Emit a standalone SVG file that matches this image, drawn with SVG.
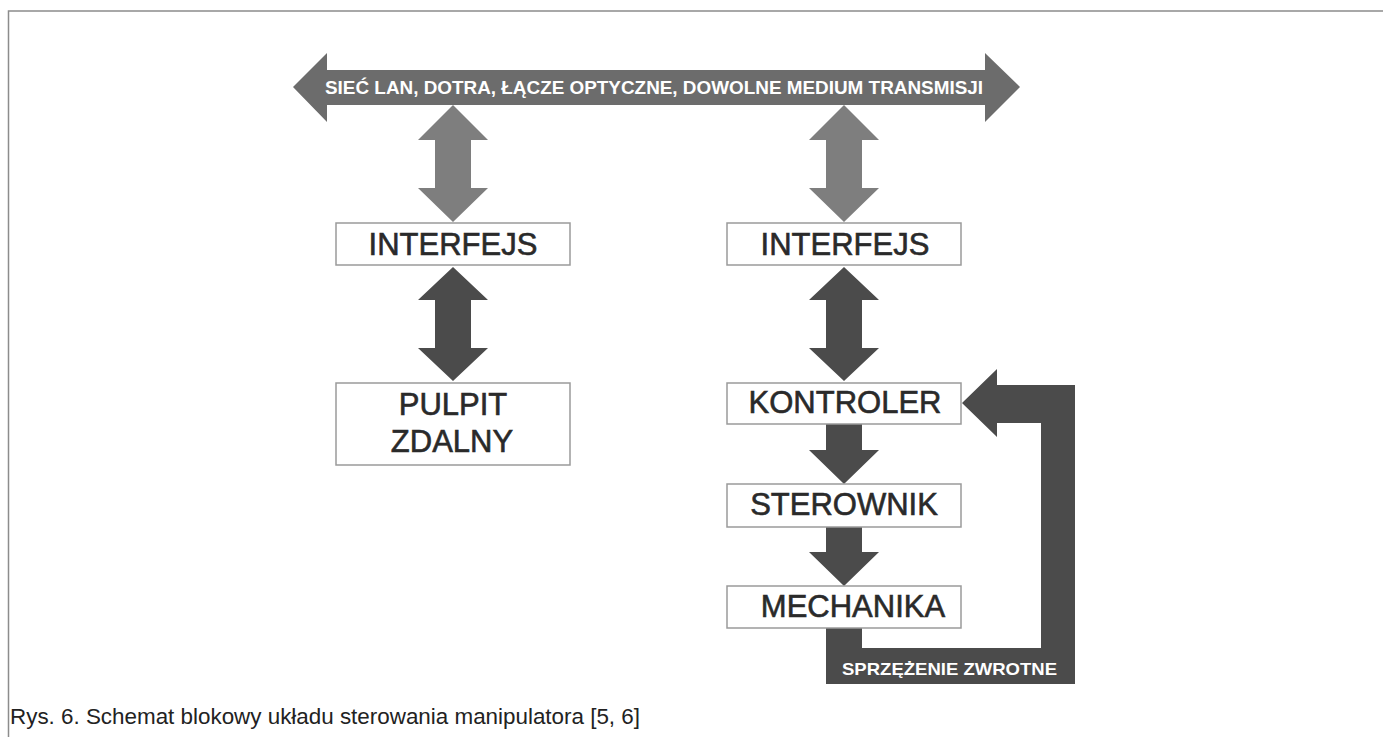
<svg xmlns="http://www.w3.org/2000/svg" width="1383" height="737" viewBox="0 0 1383 737">
<style>
.box{fill:#fff;stroke:#9a9a9a;stroke-width:1.5}
.lbl{font-family:"Liberation Sans",Arial,sans-serif;font-size:31px;fill:#2a2a2a;stroke:#2a2a2a;stroke-width:0.6;text-anchor:middle}
.band{font-family:"Liberation Sans",Arial,sans-serif;font-weight:bold;fill:#fff}
.light{fill:#7e7e7e}
.dark{fill:#4b4b4b}
.top{fill:#6c6c6c}
</style>
<rect width="1383" height="737" fill="#fff"/>
<path d="M8.5 737 V11 H1383" fill="none" stroke="#8c8c8c" stroke-width="1.5"/>
<g id="connectors">
<g id="bus">
<polygon class="top" points="293,87 327,53 327,70 985,70 985,53 1020,87 985,122 985,105 327,105 327,122"/>
<text class="band" x="325" y="94" font-size="18.5" textLength="658" lengthAdjust="spacingAndGlyphs">SIEĆ LAN, DOTRA, ŁĄCZE OPTYCZNE, DOWOLNE MEDIUM TRANSMISJI</text>
</g>
<polygon class="light" points="453,105 488,140 471,140 471,188 488,188 453,222 418,188 435,188 435,140 418,140"/>
<polygon class="light" points="844,105 879,140 862,140 862,188 879,188 844,222 809,188 826,188 826,140 809,140"/>
<polygon class="dark" points="453,267 488,300 471,300 471,348 488,348 453,381 418,348 435,348 435,300 418,300"/>
<polygon class="dark" points="844,267 879,300 862,300 862,348 879,348 844,381 809,348 826,348 826,300 809,300"/>
<polygon class="dark" points="826,424 862,424 862,450 879,450 844,484 809,450 826,450"/>
<polygon class="dark" points="826,527 862,527 862,552 879,552 844,586 809,552 826,552"/>
<g id="feedback">
<polygon class="dark" points="826,628 862,628 862,648 1041,648 1041,423 997,423 997,437 962,403 997,369 997,385 1075,385 1075,684 826,684"/>
<text class="band" x="842" y="675" font-size="17" textLength="215" lengthAdjust="spacingAndGlyphs">SPRZĘŻENIE ZWROTNE</text>
</g>
</g>
<g id="interfejs-left"><rect class="box" x="336" y="223" width="234" height="42"/><text class="lbl" x="453" y="255">INTERFEJS</text></g>
<g id="pulpit"><rect class="box" x="336" y="383" width="234" height="82"/><text class="lbl" x="453" y="415">PULPIT</text><text class="lbl" x="452" y="452">ZDALNY</text></g>
<g id="interfejs-right"><rect class="box" x="727" y="223" width="234" height="42"/><text class="lbl" x="845" y="255">INTERFEJS</text></g>
<g id="kontroler"><rect class="box" x="727" y="383" width="234" height="41"/><text class="lbl" x="845" y="413">KONTROLER</text></g>
<g id="sterownik"><rect class="box" x="727" y="484" width="234" height="43"/><text class="lbl" x="844" y="515">STEROWNIK</text></g>
<g id="mechanika"><rect class="box" x="727" y="586" width="234" height="42"/><text class="lbl" x="853" y="617">MECHANIKA</text></g>
<text x="10" y="724" font-family="'Liberation Sans',Arial,sans-serif" font-size="22" fill="#222" textLength="630" lengthAdjust="spacingAndGlyphs">Rys. 6. Schemat blokowy układu sterowania manipulatora [5, 6]</text>
</svg>
